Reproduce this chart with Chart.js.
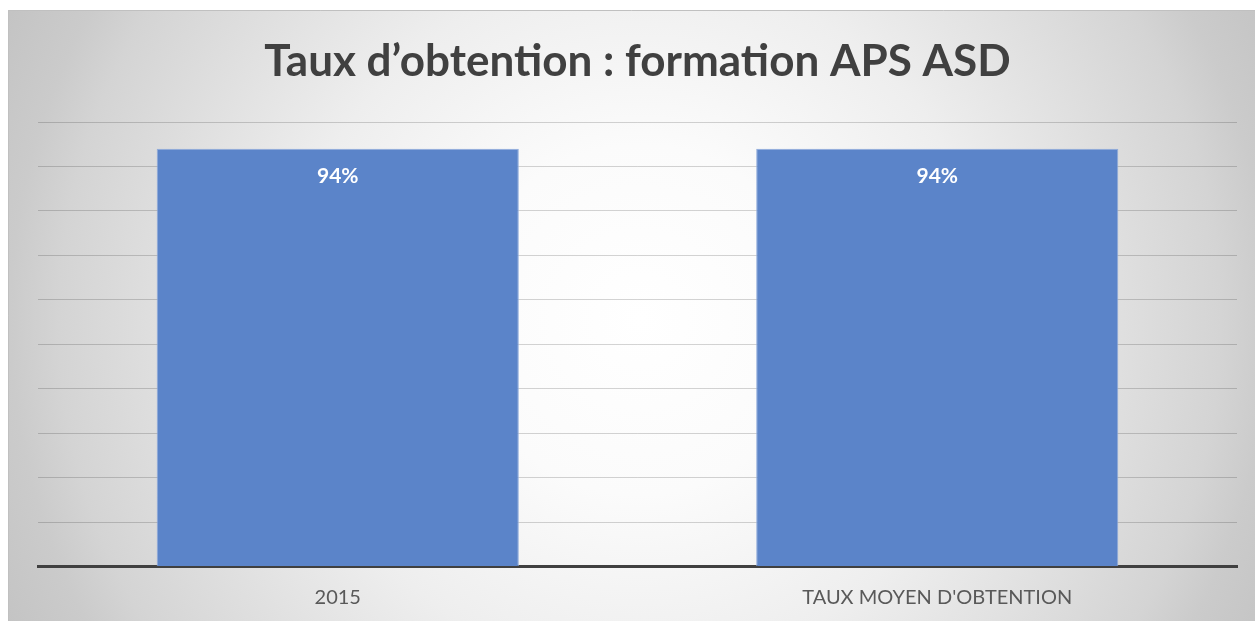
<!DOCTYPE html>
<html>
<head>
<meta charset="utf-8">
<script src="https://cdn.jsdelivr.net/npm/chart.js@4/dist/chart.umd.min.js"></script>
<style>
  html, body { margin: 0; padding: 0; background: #ffffff; }
  #wrap { width: 1255px; height: 621px; position: relative; }
</style>
</head>
<body>
<div id="wrap"><canvas id="c" width="1255" height="621"></canvas></div>
<script>
const chartTitle = "Taux d\u2019obtention : formation APS ASD";
const categories = ["2015", "TAUX MOYEN D'OBTENTION"];
const rates = [94, 94];
const yTicks = [0, 10, 20, 30, 40, 50, 60, 70, 80, 90, 100];

const bgPlugin = {
  id: 'bg',
  beforeDraw(chart) {
    const ctx = chart.ctx;
    const W = chart.width, H = chart.height;
    ctx.save();
    ctx.fillStyle = '#ffffff';
    ctx.fillRect(0, 0, W, H);
    const g = ctx.createRadialGradient(640, 320, 0, 640, 320, 700);
    g.addColorStop(0, '#ffffff');
    g.addColorStop(0.25, '#fbfbfb');
    g.addColorStop(0.5, '#eeeeee');
    g.addColorStop(0.83, '#d4d4d4');
    g.addColorStop(0.9, '#cbcbcb');
    g.addColorStop(1, '#c4c4c4');
    ctx.fillStyle = g;
    ctx.fillRect(8, 10, W - 8, H - 10);
    ctx.strokeStyle = '#c0c0c0';
    ctx.lineWidth = 1;
    ctx.beginPath();
    ctx.moveTo(8.5, H);
    ctx.lineTo(8.5, 10.5);
    ctx.lineTo(W, 10.5);
    ctx.stroke();
    ctx.restore();
  }
};

const labelPlugin = {
  id: 'barLabels',
  afterDatasetsDraw(chart) {
    const ctx = chart.ctx;
    const meta = chart.getDatasetMeta(0);
    ctx.save();
    ctx.fillStyle = '#ffffff';
    ctx.font = 'bold 21px Lato, "Open Sans", sans-serif';
    ctx.textAlign = 'center';
    ctx.textBaseline = 'middle';
    meta.data.forEach((bar, i) => {
      ctx.fillText(rates[i] + '%', bar.x, bar.y + 28);
    });
    ctx.restore();
  }
};

new Chart(document.getElementById('c'), {
  type: 'bar',
  data: {
    labels: categories,
    datasets: [{
      data: rates,
      backgroundColor: '#5b84c9',
      borderColor: '#8eaadb',
      borderWidth: 1,
      categoryPercentage: 1,
      barPercentage: 0.604
    }]
  },
  options: {
    responsive: false,
    animation: false,
    devicePixelRatio: 1,
    layout: { padding: { left: 38, right: 18, top: 10, bottom: 0 } },
    plugins: {
      legend: { display: false },
      tooltip: { enabled: false },
      title: {
        display: true,
        text: chartTitle,
        color: '#404040',
        font: { family: 'Lato, "Open Sans", sans-serif', size: 44, weight: 'bold', lineHeight: 1.2 },
        padding: { top: 25.6, bottom: 33.6 }
      }
    },
    scales: {
      x: {
        grid: { display: false, drawTicks: false, tickLength: 0 },
        border: { display: true, color: '#404040', width: 3 },
        ticks: {
          color: '#595959',
          padding: 19,
          font: { family: 'Lato, "Open Sans", sans-serif', size: 20, lineHeight: 1.2 }
        },
        afterFit(scale) { scale.height = 54.5; }
      },
      y: {
        min: yTicks[0],
        max: yTicks[yTicks.length - 1],
        afterBuildTicks(scale) { scale.ticks = yTicks.map(v => ({ value: v })); },
        ticks: { display: false },
        grid: { color: 'rgba(0,0,0,0.17)', lineWidth: 1, drawTicks: false, tickLength: 0 },
        border: { display: false },
        afterFit(scale) { scale.width = 0; }
      }
    }
  },
  plugins: [bgPlugin, labelPlugin]
});
</script>
</body>
</html>
